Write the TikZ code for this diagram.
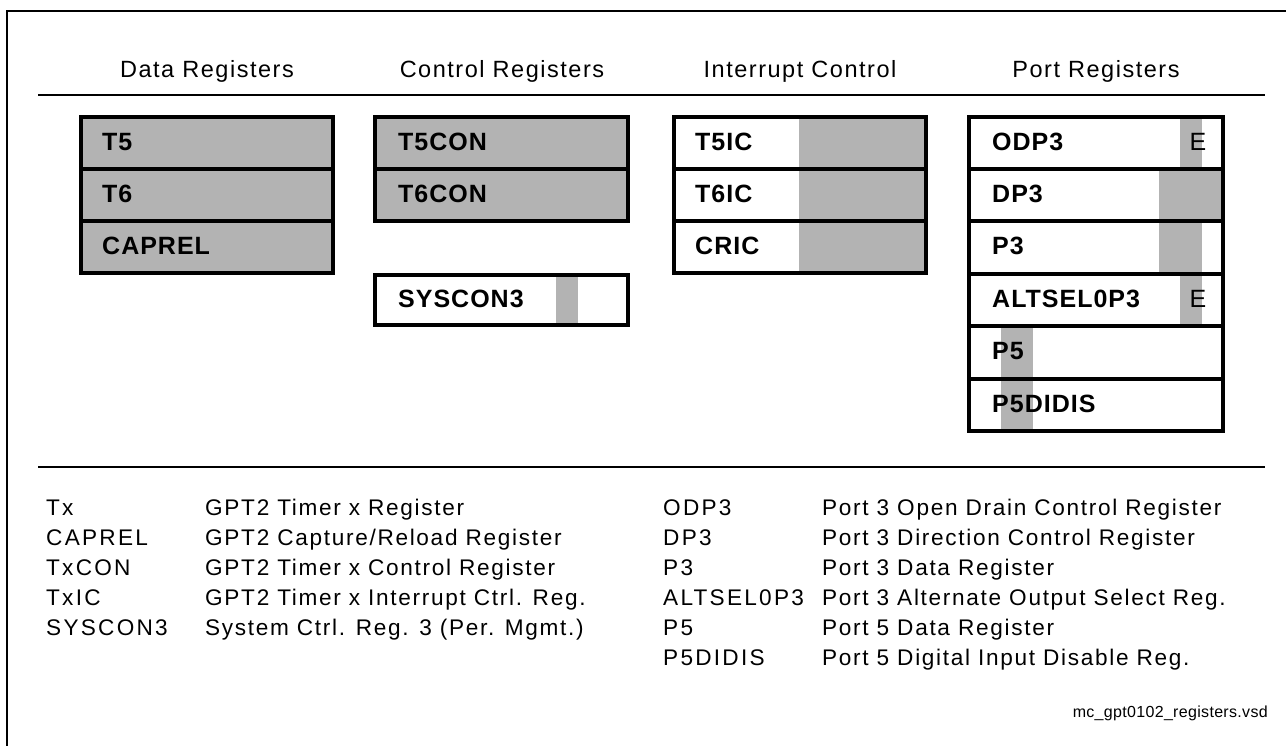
\documentclass[tikz,border=0pt]{standalone}
\usepackage{fontspec}
\setmainfont{Liberation Sans}
\newfontfamily\headfont[LetterSpace=6.5]{Liberation Sans}
\newfontfamily\regfont[LetterSpace=4]{Liberation Sans}
\newfontfamily\legfont[LetterSpace=7.5]{Liberation Sans}
\newfontfamily\legkeyfont[LetterSpace=10]{Liberation Sans}
\newfontfamily\footfont[LetterSpace=2]{Liberation Sans}
\definecolor{regfill}{RGB}{179,179,179}
\tikzset{
  frameline/.style={line width=2pt},
  ruleline/.style={line width=1.3pt},
  regborder/.style={line width=4pt},
  heading/.style={font=\headfont\fontsize{23.5}{28}\selectfont, inner sep=0pt, anchor=base},
  reglabel/.style={font=\regfont\bfseries\fontsize{25}{30}\selectfont, inner sep=0pt, anchor=west},
  elabel/.style={font=\regfont\fontsize{25}{30}\selectfont, inner sep=0pt},
  legkey/.style={font=\legkeyfont\fontsize{22.6}{27}\selectfont, inner sep=0pt, anchor=base west},
  legend/.style={font=\legfont\fontsize{22.6}{27}\selectfont, inner sep=0pt, anchor=base west},
  footer/.style={font=\footfont\fontsize{16}{19}\selectfont, inner sep=0pt, anchor=base east}
}
\begin{document}
\begin{tikzpicture}[x=1pt,y=-1pt]
\useasboundingbox (0,0) rectangle (1286,745);
% frame
\begin{scope}
\clip (0,0) rectangle (1286,745);
\draw[frameline] (7,11) rectangle (1300,760);
\end{scope}
% headings
\node[heading] (hdata) at (207,77) {Data Registers};
\node[heading] (hctrl) at (502,77) {Control Registers};
\node[heading] (hint) at (800,77) {Interrupt Control};
\node[heading] (hport) at (1096,77) {Port Registers};
\draw[ruleline] (38,95) -- (1265,95);
% data registers
\fill[regfill] (81,117) rectangle (333,273);
\draw[regborder] (81,117) rectangle (333,273);
\draw[regborder] (81,169) -- (333,169);
\draw[regborder] (81,221) -- (333,221);
\node[reglabel] (t5) at (102,142) {T5};
\node[reglabel] (t6) at (102,194) {T6};
\node[reglabel] (caprel) at (102,246) {CAPREL};
% control registers
\fill[regfill] (375,117) rectangle (628,221);
\draw[regborder] (375,117) rectangle (628,221);
\draw[regborder] (375,169) -- (628,169);
\node[reglabel] (t5con) at (398,142) {T5CON};
\node[reglabel] (t6con) at (398,194) {T6CON};
\fill[regfill] (556,275) rectangle (578,325);
\draw[regborder] (375,275) rectangle (628,325);
\node[reglabel] (syscon) at (398,299) {SYSCON3};
% interrupt control
\fill[regfill] (799,117) rectangle (926,273);
\draw[regborder] (674,117) rectangle (926,273);
\draw[regborder] (674,169) -- (926,169);
\draw[regborder] (674,221) -- (926,221);
\node[reglabel] (t5ic) at (695,142) {T5IC};
\node[reglabel] (t6ic) at (695,194) {T6IC};
\node[reglabel] (cric) at (695,246) {CRIC};
% port registers
\fill[regfill] (1180,117) rectangle (1202,169);
\fill[regfill] (1159,169) rectangle (1223,221);
\fill[regfill] (1159,221) rectangle (1202,274);
\fill[regfill] (1180,274) rectangle (1202,326);
\fill[regfill] (1001,326) rectangle (1033,431);
\draw[regborder] (969,117) rectangle (1223,431);
\foreach \yy in {169,221,274,326,379} \draw[regborder] (969,\yy) -- (1223,\yy);
\node[reglabel] (odp) at (992,142) {ODP3};
\node[elabel] (odpe) at (1198,142) {E};
\node[reglabel] (dp) at (992,194) {DP3};
\node[reglabel] (p3) at (992,246) {P3};
\node[reglabel] (altsel) at (992,299) {ALTSEL0P3};
\node[elabel] (altsele) at (1198,299) {E};
\node[reglabel] (p5) at (992,351) {P5};
\node[reglabel] (p5didis) at (992,404) {P5DIDIS};
% legend
\draw[ruleline] (38,467) -- (1265,467);
\node[legkey] (l1a) at (46,515) {Tx};
\node[legend] (l1b) at (205,515) {GPT2 Timer x Register};
\node[legkey] (l2a) at (46,545) {CAPREL};
\node[legend] (l2b) at (205,545) {GPT2 Capture/Reload Register};
\node[legkey] (l3a) at (46,575) {TxCON};
\node[legend] (l3b) at (205,575) {GPT2 Timer x Control Register};
\node[legkey] (l4a) at (46,605) {TxIC};
\node[legend] (l4b) at (205,605) {GPT2 Timer x Interrupt Ctrl. Reg.};
\node[legkey] (l5a) at (46,635) {SYSCON3};
\node[legend] (l5b) at (205,635) {System Ctrl. Reg. 3 (Per. Mgmt.)};
\node[legkey] (r1a) at (663,515) {ODP3};
\node[legend] (r1b) at (822,515) {Port 3 Open Drain Control Register};
\node[legkey] (r2a) at (663,545) {DP3};
\node[legend] (r2b) at (822,545) {Port 3 Direction Control Register};
\node[legkey] (r3a) at (663,575) {P3};
\node[legend] (r3b) at (822,575) {Port 3 Data Register};
\node[legkey] (r4a) at (663,605) {ALTSEL0P3};
\node[legend] (r4b) at (822,605) {Port 3 Alternate Output Select Reg.};
\node[legkey] (r5a) at (663,635) {P5};
\node[legend] (r5b) at (822,635) {Port 5 Data Register};
\node[legkey] (r6a) at (663,665) {P5DIDIS};
\node[legend] (r6b) at (822,665) {Port 5 Digital Input Disable Reg.};
\node[footer] (foot) at (1268,717) {mc\_gpt0102\_registers.vsd};
\end{tikzpicture}
\end{document}
